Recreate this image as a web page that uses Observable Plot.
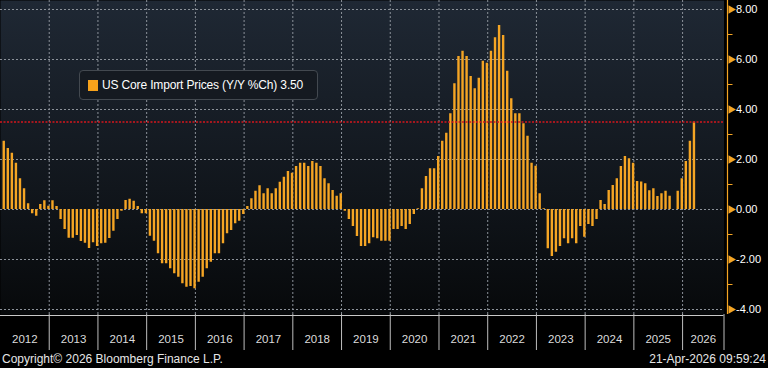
<!DOCTYPE html>
<html>
<head>
<meta charset="utf-8">
<script src="https://cdn.jsdelivr.net/npm/d3@7"></script>
<script src="https://cdn.jsdelivr.net/npm/@observablehq/plot@0.6"></script>
<style>
  html, body { margin: 0; padding: 0; background: #000; }
  #chart { position: relative; width: 768px; height: 368px; background: #000; overflow: hidden;
    font-family: "Liberation Sans", Arial, sans-serif; color: #e6e6e6; }
  #chart svg { position: absolute; left: 0; top: 0; }
  #legend { position: absolute; left: 79px; top: 70px; width: 237px; height: 28px; background: #151a21;
    border: 1px solid #434950; border-radius: 4px; }
  #legend .sw { position: absolute; left: 8px; top: 9px; width: 10px; height: 11px; background: #f7a21b; }
  #legend .lbl { position: absolute; left: 22px; top: 7px; font-size: 12px; letter-spacing: -0.15px; color: #fff; white-space: nowrap; line-height: 15px; }
  .foot { position: absolute; top: 352px; font-size: 12px; color: #e6e6e6; line-height: 14px; white-space: nowrap; }
</style>
</head>
<body>
<div id="chart"></div>
<script>
// ---- data (Y/Y % change, monthly, Jan..Dec) ----
const years = [2012, 2013, 2014, 2015, 2016, 2017, 2018, 2019, 2020, 2021, 2022, 2023, 2024, 2025, 2026];
const v2012 = [2.73, 2.44, 2.25, 1.85, 1.23, 0.83, 0.23, -0.17, -0.27, 0.20, 0.35, 0.13];
const v2013 = [0.35, 0.12, -0.40, -0.80, -1.15, -1.15, -1.04, -1.28, -1.35, -1.56, -1.33, -1.48];
const v2014 = [-1.37, -1.35, -1.16, -0.87, -0.40, -0.07, 0.36, 0.41, 0.33, 0.12, -0.17, -0.17];
const v2015 = [-1.07, -1.27, -1.77, -2.17, -2.17, -2.37, -2.57, -2.71, -2.97, -3.11, -3.08, -3.17];
const v2016 = [-2.91, -2.71, -2.37, -2.11, -1.77, -1.77, -1.37, -0.97, -0.84, -0.57, -0.47, -0.20];
const v2017 = [0.12, 0.43, 0.73, 0.95, 0.63, 0.83, 0.63, 0.83, 1.09, 1.29, 1.52, 1.45];
const v2018 = [1.72, 1.85, 1.85, 1.72, 1.92, 1.85, 1.72, 1.23, 1.03, 0.76, 0.53, 0.63];
const v2019 = [-0.07, -0.40, -0.68, -1.08, -1.48, -1.48, -1.37, -1.13, -1.17, -1.27, -1.27, -1.27];
const v2020 = [-0.80, -0.80, -0.68, -0.80, -0.60, -0.20, 0.03, 0.83, 1.32, 1.63, 1.63, 2.12];
const v2021 = [2.73, 3.05, 3.83, 5.03, 6.12, 6.33, 6.12, 5.32, 4.83, 5.25, 5.93, 5.85];
const v2022 = [6.33, 6.87, 7.36, 6.96, 5.53, 4.43, 3.83, 3.83, 3.43, 2.93, 1.85, 1.73];
const v2023 = [0.63, 0.03, -1.57, -1.88, -1.71, -1.48, -1.17, -1.37, -1.17, -1.37, -0.68, -1.11];
const v2024 = [-0.60, -0.68, -0.40, 0.36, 0.20, 0.76, 0.96, 1.23, 1.72, 2.12, 2.03, 1.85];
const v2025 = [1.12, 1.10, 1.03, 0.75, 0.83, 0.52, 0.63, 0.73, 0.53, null, 0.73, 1.23];
const v2026 = [1.92, 2.73, 3.50];
const yearValues = [v2012, v2013, v2014, v2015, v2016, v2017, v2018, v2019, v2020, v2021, v2022, v2023, v2024, v2025, v2026];

const seriesName = "US Core Import Prices (Y/Y %Ch)";
const lastValue = 3.50;
const majorTicks = [8, 6, 4, 2, 0, -2, -4];
const minorTicks = [7, 5, 3, 1, -1, -3];
const yearLabels = years.map(String);
const copyright = "Copyright\u00A9 2026 Bloomberg Finance L.P.";
const stamp = "21-Apr-2026 09:59:24";

// ---- build table ----
const data = [];
yearValues.forEach((arr, i) => arr.forEach((v, m) => {
  if (v != null) data.push({t: years[i] + (m + 0.8) / 12, v});
}));

const xMin = 2012, xMax = 2026.85;
const orange = "#f5a524";
const bounds = years.slice(1).concat([xMax]);
const labelPos = years.map((y, i) => ({label: yearLabels[i], x: (y + Math.min(y + 1, xMax)) / 2}));
const font = '"Liberation Sans", Arial, sans-serif';

const plot = Plot.plot({
  width: 768, height: 350,
  marginTop: 0, marginBottom: 36, marginLeft: 0, marginRight: 44.5,
  style: {background: "transparent", overflow: "visible", fontFamily: font, fontSize: "12px", color: "#e6e6e6"},
  x: {domain: [xMin, xMax], axis: null},
  y: {domain: [-4.2, 8.36], axis: null},
  marks: [
    Plot.frame({fill: "url(#bbgGrad)", stroke: "none"}),
    Plot.ruleY(majorTicks, {stroke: "#8b9199", strokeDasharray: "2,2", strokeWidth: 1}),
    Plot.ruleX(years.slice(1), {stroke: "#8b9199", strokeDasharray: "2,2", strokeWidth: 1}),
    Plot.ruleX(data, {x: "t", y1: 0, y2: "v", stroke: orange, strokeWidth: 2.4}),
    Plot.ruleY([lastValue], {stroke: "#d4161c", strokeDasharray: "2,1.5", strokeWidth: 1.6}),
    // right-hand axis
    Plot.ruleX([xMax], {dx: 3.5, stroke: orange, strokeWidth: 1.2}),
    Plot.axisY(minorTicks, {anchor: "right", tickSize: 4.5, dx: 3.5, stroke: orange, tickFormat: () => "", label: null}),
    Plot.dot(majorTicks, {y: d => d, frameAnchor: "right", dx: 7, symbol: "triangle", rotate: 90, r: 3.2, fill: orange, stroke: "none"}),
    Plot.text(majorTicks, {y: d => d, frameAnchor: "right", dx: 12, textAnchor: "start", text: d => d.toFixed(2), fill: "#ffffff", fontSize: 11}),
    // bottom year band
    Plot.ruleY([-4.2], {dy: 1, stroke: "#c9c9c9", strokeWidth: 1}),
    Plot.axisX(bounds, {anchor: "bottom", tickSize: 36, tickFormat: () => "", stroke: "#bdbdbd", label: null}),
    Plot.text(labelPos, {x: "x", frameAnchor: "bottom", dy: 28, text: "label", fill: "#dcdcdc", fontSize: 11.5})
  ]
});

const svg = d3.select(plot);
const grad = svg.insert("defs", ":first-child").append("linearGradient")
  .attr("id", "bbgGrad").attr("x1", 0).attr("y1", 0).attr("x2", 0).attr("y2", 1);
grad.append("stop").attr("offset", "0%").attr("stop-color", "#1f2834");
grad.append("stop").attr("offset", "60%").attr("stop-color", "#11161c");
grad.append("stop").attr("offset", "100%").attr("stop-color", "#07090b");

const chart = document.getElementById("chart");
chart.appendChild(plot);

const legend = document.createElement("div");
legend.id = "legend";
legend.innerHTML = '<div class="sw"></div><div class="lbl"></div>';
legend.querySelector(".lbl").textContent = seriesName + " " + lastValue.toFixed(2);
chart.appendChild(legend);

const left = document.createElement("div");
left.className = "foot"; left.style.left = "2px"; left.textContent = copyright;
chart.appendChild(left);
const right = document.createElement("div");
right.className = "foot"; right.style.right = "2px"; right.textContent = stamp;
chart.appendChild(right);
</script>
</body>
</html>
